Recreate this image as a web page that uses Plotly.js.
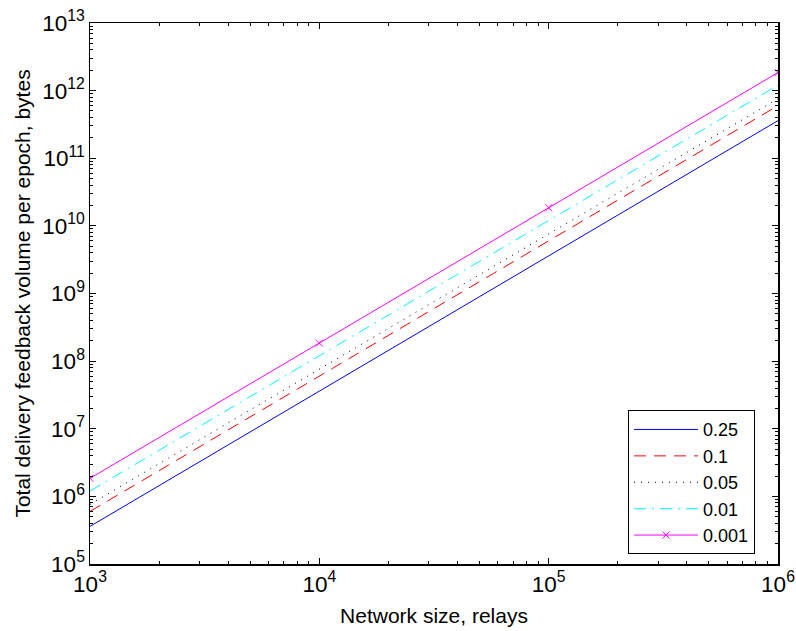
<!DOCTYPE html>
<html><head><meta charset="utf-8">
<script src="https://cdn.plot.ly/plotly-3.0.1.min.js"></script>
<style>body{margin:0;background:#fff}#c{width:796px;height:631px}</style>
</head><body><div id="c"></div>
<script>
const networkSize = [1e3, 1e4, 1e5, 1e6];
const labels = ['0.25', '0.1', '0.05', '0.01', '0.001'];
const v025 = [3.6e5, 3.6e7, 3.6e9, 3.6e11];
const v01 = [6.0e5, 6.0e7, 6.0e9, 6.0e11];
const v005 = [7.6e5, 7.6e7, 7.6e9, 7.6e11];
const v001 = [1.2e6, 1.2e8, 1.2e10, 1.2e12];
const v0001 = [1.85e6, 1.85e8, 1.85e10, 1.85e12];
const series = [v025, v01, v005, v001, v0001];
const colors = ['#0000ff', '#ff0000', '#000000', '#00ffff', '#ff00ff'];
const dashes = ['solid', '12px,8px', '1px,6px', '12px,6px,2px,6px', 'solid'];
const traces = series.map((ys, i) => {
  const t = {
    x: networkSize, y: ys, name: labels[i], type: 'scatter',
    mode: i === 4 ? 'lines+markers' : 'lines',
    line: {color: colors[i], width: 1, dash: dashes[i]}
  };
  if (i === 4) t.marker = {symbol: 'x-thin', size: 7, color: colors[i], line: {color: colors[i], width: 1}};
  return t;
});
const fam = 'Liberation Sans, Arial, sans-serif';
const titleFont = {family: fam, size: 21, color: '#000'};
const tickFont = {family: fam, size: 18, color: '#000'};
const legFont = {family: fam, size: 18, color: '#000'};
function ax(extra) {
  return Object.assign({
    type: 'log', showgrid: false, zeroline: false, showline: true, linecolor: '#000', linewidth: 1.5,
    mirror: 'ticks', ticks: 'inside', ticklen: 6, tickwidth: 1, tickcolor: '#000',
    dtick: 1, exponentformat: 'power', tickfont: tickFont,
    minor: {ticks: 'inside', ticklen: 3, tickwidth: 1, tickcolor: '#000', dtick: 'D1', showgrid: false}
  }, extra);
}
const layout = {
  width: 796, height: 631,
  margin: {l: 90, r: 18, t: 23, b: 67},
  paper_bgcolor: '#fff', plot_bgcolor: '#fff',
  font: titleFont, showlegend: true,
  xaxis: ax({range: [3, 6], title: {text: 'Network size, relays', font: titleFont, standoff: 12}}),
  yaxis: ax({range: [5, 13], title: {text: 'Total delivery feedback volume per epoch, bytes', font: titleFont, standoff: 6}}),
  legend: {x: 0.782, y: 0.018, xanchor: 'left', yanchor: 'bottom', bordercolor: '#000', borderwidth: 1,
    bgcolor: '#fff', font: legFont, tracegroupgap: 0, itemwidth: 64, entrywidth: 140, entrywidthmode: 'pixels'}
};
Plotly.newPlot('c', traces, layout, {displayModeBar: false, staticPlot: true});
</script></body></html>
